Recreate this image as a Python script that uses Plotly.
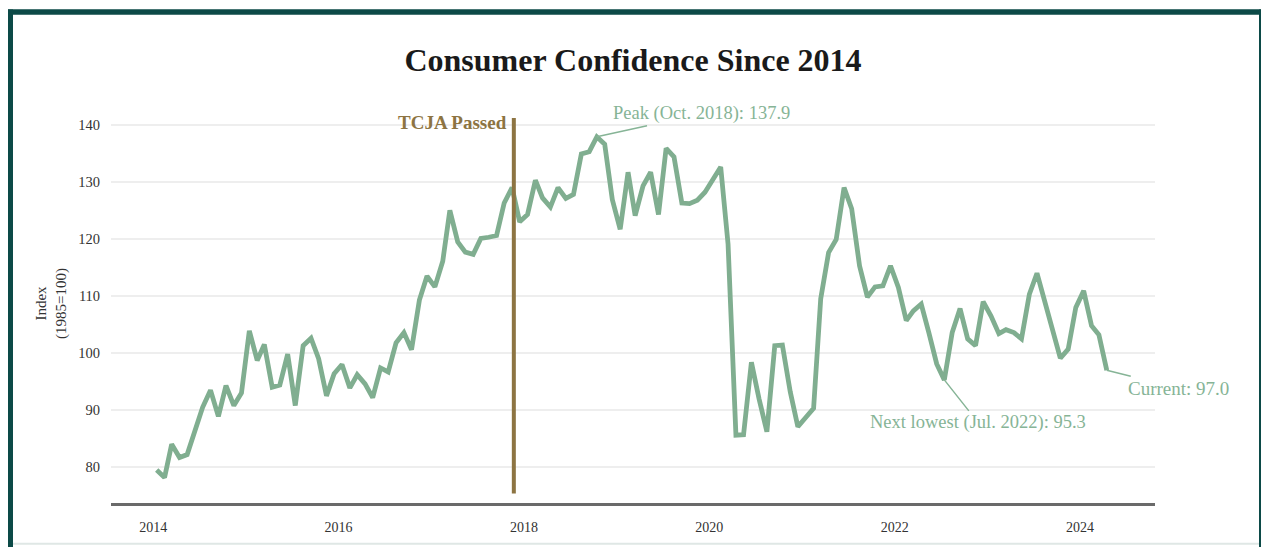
import plotly.graph_objects as go

# ---------------- data ----------------
years = list(range(2014, 2025))
values_2014 = [79.5, 78.2, 84.0, 81.7, 82.2, 86.5, 90.5, 93.5, 88.9, 94.3, 90.8, 93.0]
values_2015 = [103.9, 98.7, 101.5, 94.0, 94.4, 99.8, 90.8, 101.3, 102.6, 99.0, 92.5, 96.4]
values_2016 = [98.0, 93.9, 96.2, 94.6, 92.2, 97.4, 96.7, 101.8, 103.6, 100.6, 109.3, 113.5]
values_2017 = [111.6, 116.1, 125.0, 119.5, 117.7, 117.3, 120.1, 120.3, 120.6, 126.3, 129.0, 123.0]
values_2018 = [124.3, 130.3, 127.2, 125.6, 129.0, 127.1, 127.8, 134.9, 135.3, 137.9, 136.6, 126.9]
values_2019 = [121.7, 131.7, 124.1, 129.3, 131.7, 124.3, 135.9, 134.4, 126.3, 126.2, 126.8, 128.2]
values_2020 = [130.4, 132.6, 119.1, 85.6, 85.7, 98.4, 92.0, 86.2, 101.3, 101.4, 93.2, 87.1]
values_2021 = [88.7, 90.3, 109.5, 117.6, 119.9, 129.0, 125.3, 115.3, 109.8, 111.6, 111.8, 115.3]
values_2022 = [111.5, 105.7, 107.4, 108.6, 103.6, 98.1, 95.3, 103.6, 107.8, 102.5, 101.3, 109.0]
values_2023 = [106.5, 103.4, 104.1, 103.6, 102.5, 110.3, 114.0, 109.2, 103.9, 99.1, 100.7, 108.0]
values_2024 = [110.9, 104.8, 103.2, 97.0]

yearly = [values_2014, values_2015, values_2016, values_2017, values_2018, values_2019,
          values_2020, values_2021, values_2022, values_2023, values_2024]

dates = []
values = []
for yr, vals in zip(years, yearly):
    for m, v in enumerate(vals, start=1):
        dates.append(f"{yr}-{m:02d}-15")
        values.append(v)

x_tick_years = [2014, 2016, 2018, 2020, 2022, 2024]
y_ticks = [80, 90, 100, 110, 120, 130, 140]

tcja_date = "2017-11-22"
tcja_label = "TCJA Passed"
peak_idx = dates.index("2018-10-15")
low_idx = dates.index("2022-07-15")
cur_idx = len(dates) - 1

# ---------------- styling ----------------
LINE = "#80ae90"
TEXT_GREEN = "#86b496"
BROWN = "#8d7442"
FRAME = "#0c4a47"
SERIF = "Liberation Serif, Times New Roman, serif"

W, H = 1261, 547
ML, MR, MT, MB = 111, 106, 100, 42
PW, PH = W - ML - MR, H - MT - MB


def px_x(p):
    return (p - ML) / PW


def px_y(p):
    return (H - MB - p) / PH


fig = go.Figure()
fig.add_trace(go.Scatter(
    x=dates, y=values, mode="lines",
    line=dict(color=LINE, width=4.8),
    hoverinfo="x+y", showlegend=False,
))

shapes = [
    dict(type="line", xref="x", yref="y", x0=tcja_date, x1=tcja_date,
         y0=75.4, y1=141.2, line=dict(color=BROWN, width=4)),
    # frame
    dict(type="line", xref="paper", yref="paper", x0=px_x(8), x1=px_x(1265),
         y0=px_y(11.5), y1=px_y(11.5), line=dict(color=FRAME, width=5.5)),
    dict(type="line", xref="paper", yref="paper", x0=px_x(10.5), x1=px_x(10.5),
         y0=px_y(9), y1=px_y(550), line=dict(color=FRAME, width=5)),
    dict(type="line", xref="paper", yref="paper", x0=px_x(1260.5), x1=px_x(1260.5),
         y0=px_y(9), y1=px_y(550), line=dict(color=FRAME, width=3)),
    dict(type="line", xref="paper", yref="paper", x0=px_x(13), x1=px_x(1259),
         y0=px_y(546), y1=px_y(546), line=dict(color="#dfe7e5", width=2)),
]

annotations = [
    dict(x=tcja_date, y=140.5, xref="x", yref="y", text=tcja_label, showarrow=False,
         xanchor="right", yanchor="middle", xshift=-5,
         font=dict(family=SERIF, size=19, color=BROWN, weight="bold")),
    dict(x=dates[peak_idx], y=values[peak_idx], xref="x", yref="y",
         text=f"Peak (Oct. 2018): {values[peak_idx]:.1f}",
         showarrow=True, arrowhead=0, arrowwidth=1.5, arrowcolor=TEXT_GREEN,
         ax=105, ay=-23, font=dict(family=SERIF, size=18.5, color=TEXT_GREEN)),
    dict(x=dates[low_idx], y=values[low_idx], xref="x", yref="y",
         text=f"Next lowest (Jul. 2022): {values[low_idx]:.1f}",
         showarrow=True, arrowhead=0, arrowwidth=1.5, arrowcolor=TEXT_GREEN,
         ax=34, ay=43, font=dict(family=SERIF, size=18.5, color=TEXT_GREEN)),
    dict(x=dates[cur_idx], y=values[cur_idx], xref="x", yref="y",
         text=f"Current: {values[cur_idx]:.1f}",
         showarrow=True, arrowhead=0, arrowwidth=1.5, arrowcolor=TEXT_GREEN,
         ax=72, ay=18, font=dict(family=SERIF, size=19, color=TEXT_GREEN)),
    dict(x=px_x(52), y=px_y(305), xref="paper", yref="paper",
         text="Index<br>(1985=100)", showarrow=False, textangle=-90,
         xanchor="center", yanchor="middle",
         font=dict(family=SERIF, size=15, color="#333333")),
]

fig.update_layout(
    width=W, height=H,
    margin=dict(l=ML, r=MR, t=MT, b=MB),
    paper_bgcolor="white", plot_bgcolor="white",
    title=dict(text="Consumer Confidence Since 2014", xref="paper", x=0.5,
               xanchor="center", yref="container", y=1 - 60 / H, yanchor="middle",
               font=dict(family=SERIF, size=32, color="#1a1a1a", weight="bold")),
    xaxis=dict(
        type="date", range=["2013-07-19", "2024-10-22"],
        tickvals=[f"{y}-01-01" for y in x_tick_years],
        ticktext=[str(y) for y in x_tick_years],
        showgrid=False, zeroline=False,
        showline=True, linecolor="#6a6a6a", linewidth=2.5,
        ticks="outside", ticklen=9, tickcolor="rgba(0,0,0,0)",
        tickfont=dict(family=SERIF, size=14, color="#333333"),
    ),
    yaxis=dict(
        range=[73.72, 144.36],
        tickvals=y_ticks,
        showgrid=True, gridcolor="#eeeeee", gridwidth=1.5,
        zeroline=False, showline=False,
        ticks="outside", ticklen=7, tickcolor="rgba(0,0,0,0)",
        tickfont=dict(family=SERIF, size=14.5, color="#333333"),
    ),
    shapes=shapes,
    annotations=annotations,
    showlegend=False,
)

fig.write_html("out.html",
               config={"displayModeBar": False},
               post_script="document.body.style.margin='0';document.body.style.overflow='hidden';")
